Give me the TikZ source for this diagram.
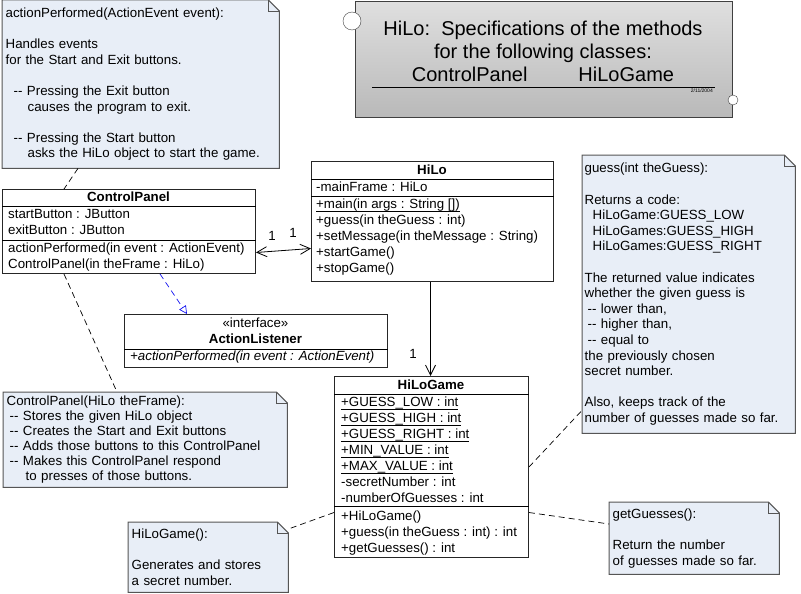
\documentclass[tikz,border=0pt]{standalone}
\usepackage{fontspec}
\setmainfont{Liberation Sans}[Ligatures=TeXOff]
\usetikzlibrary{arrows.meta,backgrounds}
\definecolor{notefill}{RGB}{232,238,247}
\definecolor{noteline}{RGB}{85,85,85}
\definecolor{linkblue}{RGB}{20,20,240}
\newcommand{\uln}[1]{\underline{\raisebox{0pt}[\height][1pt]{#1}}}

\tikzset{
  classbox/.style={draw=black!85, line width=1pt, fill=white, anchor=north west, inner sep=0pt},
  classname/.style={font=\fontsize{13.3}{16}\selectfont\bfseries, inner sep=0pt},
  member/.style={font=\fontsize{13.3}{16}\selectfont, align=left, anchor=north west, inner sep=0pt},
  note/.style={anchor=north west, inner xsep=3.5pt, inner ysep=0pt, align=left,
    font=\fontsize{13.3}{15.6}\selectfont},
  notebox/.style={draw=noteline, fill=notefill, line width=1pt},
  notelink/.style={dash pattern=on 6pt off 4pt, line width=0.7pt},
  assoc/.style={line width=0.8pt},
  navig/.style={-{Straight Barb[length=10pt,width=10pt]}},
  realize/.style={linkblue, line width=0.7pt, dash pattern=on 6pt off 4pt,
    -{Triangle[open,length=8pt,width=8pt]}},
  mult/.style={font=\fontsize{13.3}{16}\selectfont, inner sep=0pt},
}

\begin{document}
\begin{tikzpicture}[x=1pt, y=-1pt]
  \useasboundingbox (0,0) rectangle (801,594);

  % Titel
  \node[anchor=north west, minimum width=377pt, minimum height=116pt, draw=black!75,
        line width=1pt, top color=gray!25, bottom color=gray!55] (title) at (355,1) {};
  \node[font=\fontsize{20}{23}\selectfont, align=center, inner sep=0pt] (titletxt) at (543,51)
    {HiLo:\ \ Specifications of the methods\\
     for the following classes:\\
     ControlPanel\hspace{51pt}HiLoGame};
  \draw[line width=0.8pt] (372,87) -- (715,87);
  \node[font=\fontsize{5}{5}\selectfont, anchor=east, inner sep=0pt] (date) at (713,91) {2/11/2004};
  \node[circle, draw=black!75, fill=white, minimum size=18pt, inner sep=0pt] (pinL) at (352,21) {};
  \node[circle, draw=black!75, fill=white, minimum size=10pt, inner sep=0pt] (pinR) at (733,100) {};

  % Klasse ControlPanel
  \node[classbox, minimum width=253pt, minimum height=84pt] (cp) at (2,189) {};
  \draw[line width=1pt] ([yshift=-17pt]cp.north west) -- ([yshift=-17pt]cp.north east);
  \draw[line width=1pt] ([yshift=-51pt]cp.north west) -- ([yshift=-51pt]cp.north east);
  \node[classname] (cpname) at (128.5,197) {ControlPanel};
  \node[member] (cpattr) at (8,209) {startButton : JButton\\exitButton : JButton};
  \node[member] (cpops) at (8,243) {actionPerformed(in event : ActionEvent)\\ControlPanel(in theFrame : HiLo)};

  % Klasse HiLo
  \node[classbox, minimum width=242pt, minimum height=120pt] (hilo) at (311,161) {};
  \draw[line width=1pt] ([yshift=-18pt]hilo.north west) -- ([yshift=-18pt]hilo.north east);
  \draw[line width=1pt] ([yshift=-35pt]hilo.north west) -- ([yshift=-35pt]hilo.north east);
  \node[classname] (hiloname) at (432,170) {HiLo};
  \node[member] (hiloattr) at (316,182) {-mainFrame : HiLo};
  \node[member] (hiloops) at (316,199) {\uln{+main(in args : String [])}\\+guess(in theGuess : int)\\
    +setMessage(in theMessage : String)\\+startGame()\\+stopGame()};

  % Interface ActionListener
  \node[classbox, minimum width=263pt, minimum height=53pt] (al) at (124,314) {};
  \draw[line width=1pt] ([yshift=-35pt]al.north west) -- ([yshift=-35pt]al.north east);
  \node[mult] (alstereo) at (255.5,323) {«interface»};
  \node[classname] (alname) at (255.5,339) {ActionListener};
  \node[member, font=\fontsize{13.3}{16}\selectfont\itshape] (alops) at (130,351)
    {+actionPerformed(in event : ActionEvent)};

  % Klasse HiLoGame
  \node[classbox, minimum width=194pt, minimum height=181pt] (hlg) at (334,376) {};
  \draw[line width=1pt] ([yshift=-18pt]hlg.north west) -- ([yshift=-18pt]hlg.north east);
  \draw[line width=1pt] ([yshift=-130pt]hlg.north west) -- ([yshift=-130pt]hlg.north east);
  \node[classname] (hlgname) at (431,385) {HiLoGame};
  \node[member] (hlgattr) at (341,397) {\uln{+GUESS\_LOW : int}\\\uln{+GUESS\_HIGH : int}\\
    \uln{+GUESS\_RIGHT : int}\\\uln{+MIN\_VALUE : int}\\\uln{+MAX\_VALUE : int}\\
    -secretNumber : int\\-numberOfGuesses : int};
  \node[member] (hlgops) at (341,511) {+HiLoGame()\\+guess(in theGuess : int) : int\\+getGuesses() : int};

  % Notizen
  \node[note, text width=270pt, minimum height=168pt] (noteAP) at (2,0)
    {actionPerformed(ActionEvent event):\\[15.6pt]
     Handles events\\
     for the Start and Exit buttons.\\[15.6pt]
     \hspace*{8pt}-{}- Pressing the Exit button\\
     \hspace*{22pt}causes the program to exit.\\[15.6pt]
     \hspace*{8pt}-{}- Pressing the Start button\\
     \hspace*{22pt}asks the HiLo object to start the game.};
  \node[note, text width=208pt, minimum height=278pt, inner xsep=2.5pt] (noteGuess) at (582,155)
    {guess(int theGuess):\\[15.6pt]
     Returns a code:\\
     \hspace*{8pt}HiLoGame:GUESS\_LOW\\
     \hspace*{8pt}HiLoGames:GUESS\_HIGH\\
     \hspace*{8pt}HiLoGames:GUESS\_RIGHT\\[15.6pt]
     The returned value indicates\\
     whether the given guess is\\
     \hspace*{3pt}-{}- lower than,\\
     \hspace*{3pt}-{}- higher than,\\
     \hspace*{3pt}-{}- equal to\\
     the previously chosen\\
     secret number.\\[15.6pt]
     Also, keeps track of the\\
     number of guesses made so far.};
  \node[note, text width=277pt, minimum height=95pt, font=\fontsize{13.3}{15}\selectfont] (noteCtor) at (3,392)
    {ControlPanel(HiLo theFrame):\\
     \hspace*{3pt}-{}- Stores the given HiLo object\\
     \hspace*{3pt}-{}- Creates the Start and Exit buttons\\
     \hspace*{3pt}-{}- Adds those buttons to this ControlPanel\\
     \hspace*{3pt}-{}- Makes this ControlPanel respond\\
     \hspace*{19pt}to presses of those buttons.};
  \node[note, text width=153pt, minimum height=70pt] (noteHLG) at (128,522)
    {HiLoGame():\\[15.6pt]
     Generates and stores\\
     a secret number.};
  \node[note, text width=163pt, minimum height=72pt] (noteGet) at (609,502)
    {getGuesses():\\[15.6pt]
     Return the number\\
     of guesses made so far.};

  \begin{scope}[on background layer]
    \foreach \n in {noteAP, noteGuess, noteCtor, noteHLG, noteGet} {
      \draw[notebox] (\n.north west) -- ([xshift=-11pt]\n.north east) -- ([yshift=-11pt]\n.north east)
        -- (\n.south east) -- (\n.south west) -- cycle;
      \draw[noteline, line width=0.8pt] ([xshift=-11pt]\n.north east) |- ([yshift=-11pt]\n.north east);
    }
  \end{scope}

  % Verbindungen
  \draw[assoc, {Straight Barb[length=10pt,width=10pt]}-{Straight Barb[length=10pt,width=10pt]}]
    ([yshift=-21pt]cp.east) -- ([yshift=-27pt]hilo.west);
  \node[mult] (m1) at (272,236) {1};
  \node[mult] (m2) at (293,233) {1};
  \draw[assoc, navig] ([xshift=-2pt]hilo.south) -- ([xshift=-1pt]hlg.north);
  \node[mult] (m3) at (413,354) {1};
  \draw[realize] ([xshift=158pt]cp.south west) -- ([xshift=63pt]al.north west);

  \draw[notelink] ([xshift=76pt]noteAP.south west) -- ([xshift=62pt]cp.north west);
  \draw[notelink] ([xshift=62pt]cp.south west) -- ([xshift=114pt]noteCtor.north west);
  \draw[notelink] (hlg.east) -- ([yshift=23pt]noteGuess.south west);
  \draw[notelink] ([yshift=-45.5pt]hlg.west) -- ([yshift=-7pt]noteHLG.north east);
  \draw[notelink] ([yshift=-45.5pt]hlg.east) -- ([yshift=-22pt]noteGet.north west);
\end{tikzpicture}
\end{document}
